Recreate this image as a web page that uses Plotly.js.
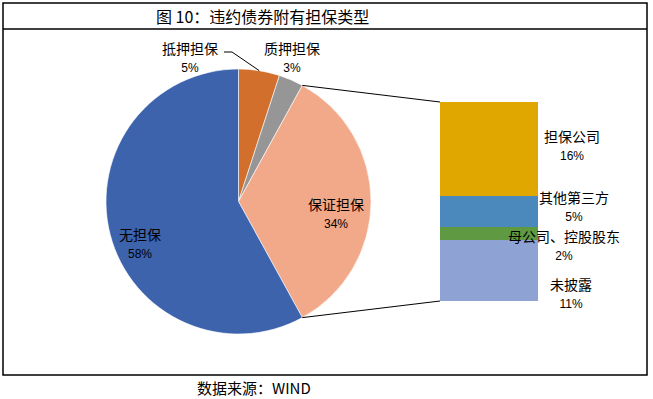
<!DOCTYPE html>
<html>
<head>
<meta charset="utf-8">
<script src="https://cdn.plot.ly/plotly-3.0.1.min.js"></script>
<style>html,body{margin:0;padding:0;background:#fff;}#chart{width:653px;height:399px;}</style>
</head>
<body>
<div id="chart"></div>
<script>
// ---- data ----
const pieLabels = ['抵押担保', '质押担保', '保证担保', '无担保'];
const pieValues = [5, 3, 34, 58];
const pieColors = ['#D36F2C', '#969696', '#F1A98A', '#3C63AC'];

const barLabels = ['未披露', '母公司、控股股东', '其他第三方', '担保公司'];   // bottom -> top
const barValues = [10.6, 2.2, 5.3, 16.2];
const barColors = ['#8FA2D4', '#5F9A43', '#4B89BD', '#E0A700'];

const titleText = '图 10：违约债券附有担保类型';
const sourceText = '数据来源：WIND';

// ---- layout helpers (pixel -> paper) ----
const W = 653, H = 399;
const px = x => x / W;
const py = y => 1 - y / H;
const cjk = '"Noto Sans CJK SC", "Noto Sans", sans-serif';

// pie geometry
const pieBox = {x0: 106, x1: 371, y0: 68.5, y1: 334.5};
const pcx = (pieBox.x0 + pieBox.x1) / 2, pcy = (pieBox.y0 + pieBox.y1) / 2;
const R = (pieBox.x1 - pieBox.x0) / 2;
// bar geometry
const barBox = {x0: 440, x1: 538, y0: 102, y1: 301};

const total = pieValues.reduce((a, b) => a + b, 0);
function angleAt(frac) { return frac * 2 * Math.PI; } // clockwise from 12 o'clock
function ptOnEdge(frac) {
  const a = angleAt(frac);
  return [pcx + R * Math.sin(a), pcy - R * Math.cos(a)];
}
let cum = [0];
pieValues.forEach((v, i) => cum.push(cum[i] + v));
const gIdx = 2; // 保证担保 slice is broken down in the bar
const pStart = ptOnEdge(cum[gIdx] / total);
const pEnd = ptOnEdge(cum[gIdx + 1] / total);
const pMid0 = ptOnEdge((cum[0] + cum[1]) / 2 / total);

const traces = [{
  type: 'pie',
  labels: pieLabels,
  values: pieValues,
  sort: false,
  direction: 'clockwise',
  rotation: 0,
  textinfo: 'none',
  hoverinfo: 'label+percent',
  marker: {colors: pieColors, line: {color: '#ffffff', width: 0.6}},
  domain: {x: [px(pieBox.x0), px(pieBox.x1)], y: [py(pieBox.y1), py(pieBox.y0)]},
  showlegend: false
}];
barLabels.forEach((lab, i) => {
  traces.push({
    type: 'bar',
    x: [0],
    y: [barValues[i]],
    name: lab,
    width: 1,
    marker: {color: barColors[i]},
    xaxis: 'x', yaxis: 'y',
    hoverinfo: 'name+y',
    showlegend: false
  });
});

function pct(v) { return Math.round(v / total * 100) + '%'; }
function lab(t, v, pos) {
  return {
    text: t + '<br><span style="font-size:12px;font-family:Liberation Sans, Arial, sans-serif">' + v + '</span>',
    x: px(pos[0]), y: py(pos[1]), xref: 'paper', yref: 'paper',
    showarrow: false, xanchor: 'center', yanchor: 'middle',
    font: {family: cjk, size: 14, color: '#000'}, align: 'center'
  };
}
const piePos = [[190, 56], [292, 56], [336, 212], [140, 242]];
const barPos = [[571, 292], [564, 244], [574, 205], [572, 144]];
const annotations = [];
pieLabels.forEach((t, i) => annotations.push(lab(t, pct(pieValues[i]), piePos[i])));
barLabels.forEach((t, i) => annotations.push(lab(t, Math.round(barValues[i]) + '%', barPos[i])));
annotations.push({
  text: titleText, x: px(262), y: py(16), xref: 'paper', yref: 'paper', showarrow: false,
  xanchor: 'center', yanchor: 'middle', font: {family: cjk, size: 16, color: '#000'}
});
annotations.push({
  text: sourceText, x: px(254), y: py(387), xref: 'paper', yref: 'paper', showarrow: false,
  xanchor: 'center', yanchor: 'middle', font: {family: cjk, size: 15, color: '#000'}
});

const L = (x0, y0, x1, y1, w) => ({type: 'line', xref: 'paper', yref: 'paper',
  x0: px(x0), y0: py(y0), x1: px(x1), y1: py(y1), line: {color: '#000', width: w || 1}});
const shapes = [
  {type: 'rect', xref: 'paper', yref: 'paper', x0: px(3), y0: py(375), x1: px(647), y1: py(3),
   line: {color: '#000', width: 1.5}},
  L(3, 29, 647, 29, 1.5),
  L(pStart[0], pStart[1], barBox.x0, barBox.y0, 1),
  L(pEnd[0], pEnd[1], barBox.x0, barBox.y1, 1),
  {type: 'path', xref: 'paper', yref: 'paper',
   path: `M ${px(224)} ${py(52)} L ${px(232)} ${py(52)} L ${px(pMid0[0])} ${py(pMid0[1])}`,
   line: {color: '#000', width: 1}}
];

const barTotal = barValues.reduce((a, b) => a + b, 0);
const layout = {
  width: W, height: H,
  margin: {l: 0, r: 0, t: 0, b: 0},
  paper_bgcolor: '#ffffff', plot_bgcolor: 'rgba(0,0,0,0)',
  barmode: 'stack', bargap: 0,
  xaxis: {domain: [px(barBox.x0), px(barBox.x1)], range: [-0.5, 0.5], visible: false, fixedrange: true},
  yaxis: {domain: [py(barBox.y1), py(barBox.y0)], range: [0, barTotal], visible: false, fixedrange: true},
  annotations: annotations,
  shapes: shapes
};
Plotly.newPlot('chart', traces, layout, {displayModeBar: false, staticPlot: true});
</script>
</body>
</html>
